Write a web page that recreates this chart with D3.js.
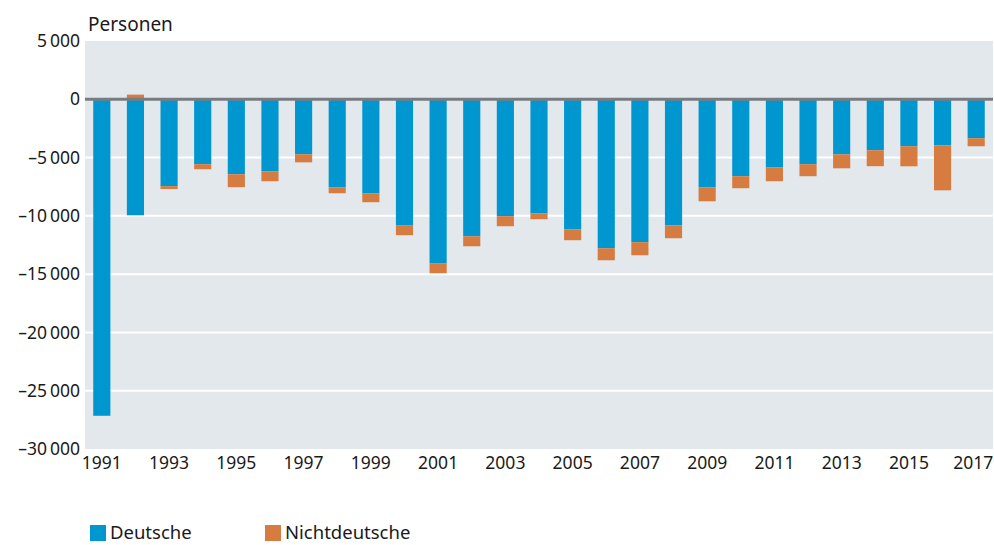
<!DOCTYPE html>
<html>
<head>
<meta charset="utf-8">
<script src="https://cdn.jsdelivr.net/npm/d3@7"></script>
<style>
  body { margin: 0; background: #fff; }
  svg { display: block; font-family: "Noto Sans", sans-serif; }
</style>
</head>
<body>
<svg id="canvas"></svg>
<script>
let years = d3.range(1991, 2018);
let deutsche = [-27150, -9950, -7450, -5570, -6430, -6170, -4720, -7550, -8060, -10800,
    -14060, -11750, -10030, -9780, -11150, -12780, -12260, -10810, -7550, -6600,
    -5830, -5570, -4720, -4370, -4030, -3950, -3340];
let nichtdeutsche = [0, 400, -250, -430, -1110, -860, -690, -510, -770, -860,
    -860, -860, -860, -510, -940, -1030, -1120, -1110, -1200, -1030,
    -1200, -1030, -1200, -1370, -1720, -3860, -690];
let yTicks = [5000, 0, -5000, -10000, -15000, -20000, -25000, -30000];
let xTickYears = years.filter(y => y % 2 === 1);
let seriesNames = ['Deutsche', 'Nichtdeutsche'];
let colors = ['#0097d0', '#d67c41'];

let width = 994;
let height = 545;
let plotLeft = 85, plotRight = 993, plotTop = 41, plotBottom = 449;

let canvas = d3.select('#canvas')
    .attr('width', width)
    .attr('height', height);

let rows = years.map((y, i) => ({ year: y, Deutsche: deutsche[i], Nichtdeutsche: nichtdeutsche[i] }));
let stacked = d3.stack().keys(seriesNames).offset(d3.stackOffsetDiverging)(rows);

let xScale = d3.scaleBand()
    .domain(years)
    .range([plotLeft, plotRight])
    .paddingInner(0.49)
    .paddingOuter(0.245);

let yScale = d3.scaleLinear()
    .domain([-30000, 5000])
    .range([plotBottom, plotTop]);

let fmt = v => {
    let s = d3.format(',')(Math.abs(v)).replace(/,/g, '\u2009');
    return v < 0 ? '\u2013' + s : s;
};

// background
canvas.append('rect')
    .attr('x', plotLeft)
    .attr('y', plotTop)
    .attr('width', plotRight - plotLeft)
    .attr('height', plotBottom - plotTop)
    .attr('fill', '#e3e8ec');

// gridlines
canvas.append('g')
    .selectAll('line')
    .data(yTicks.filter(t => t !== 0 && t !== 5000 && t !== -30000))
    .enter()
    .append('line')
    .attr('x1', plotLeft)
    .attr('x2', plotRight)
    .attr('y1', d => yScale(d))
    .attr('y2', d => yScale(d))
    .attr('stroke', '#fff')
    .attr('stroke-width', 2);

// bars
canvas.append('g')
    .selectAll('g')
    .data(stacked)
    .enter()
    .append('g')
    .attr('fill', (d, i) => colors[i])
    .selectAll('rect')
    .data(d => d)
    .enter()
    .append('rect')
    .attr('x', d => xScale(d.data.year))
    .attr('width', xScale.bandwidth())
    .attr('y', d => yScale(Math.max(d[0], d[1])))
    .attr('height', d => Math.abs(yScale(d[0]) - yScale(d[1])));

// zero line
canvas.append('line')
    .attr('x1', plotLeft)
    .attr('x2', plotRight)
    .attr('y1', yScale(0))
    .attr('y2', yScale(0))
    .attr('stroke', '#787c81')
    .attr('stroke-width', 3);

// y axis
let yAxis = d3.axisLeft(yScale)
    .tickValues(yTicks)
    .tickSize(0)
    .tickPadding(5)
    .tickFormat(fmt);

canvas.append('g')
    .attr('transform', `translate(${plotLeft}, 0)`)
    .call(yAxis)
    .call(g => g.select('.domain').remove())
    .selectAll('text')
    .attr('font-size', 17.5)
    .attr('font-family', '"Noto Sans", sans-serif')
    .attr('fill', '#1a1a1a');

// x axis
let xAxis = d3.axisBottom(xScale)
    .tickValues(xTickYears)
    .tickSize(0)
    .tickPadding(8);

canvas.append('g')
    .attr('transform', `translate(0, ${plotBottom})`)
    .call(xAxis)
    .call(g => g.select('.domain').remove())
    .selectAll('text')
    .attr('font-size', 17.5)
    .attr('font-family', '"Noto Sans", sans-serif')
    .attr('fill', '#1a1a1a')
    .attr('dx', d => d === 2017 ? -3 : 0);

// unit label
canvas.append('text')
    .attr('x', 88)
    .attr('y', 31)
    .attr('font-size', 19)
    .attr('fill', '#1a1a1a')
    .text('Personen');

// legend
let legend = canvas.append('g')
    .selectAll('g')
    .data(seriesNames)
    .enter()
    .append('g')
    .attr('transform', (d, i) => `translate(${90 + i * 175}, 525)`);

legend.append('rect')
    .attr('width', 16)
    .attr('height', 16)
    .attr('fill', (d, i) => colors[i]);

legend.append('text')
    .attr('x', 20)
    .attr('y', 14)
    .attr('font-size', 18.5)
    .attr('fill', '#1a1a1a')
    .text(d => d);
</script>
</body>
</html>
